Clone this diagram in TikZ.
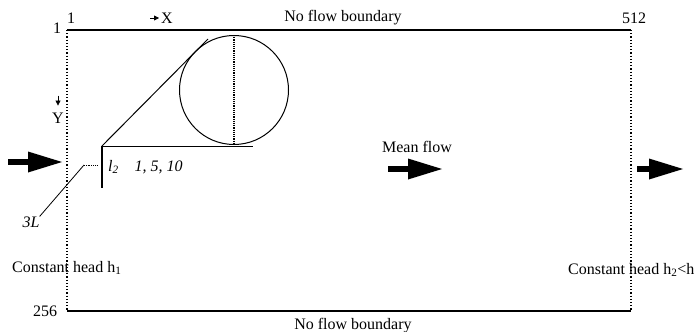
\documentclass[tikz,border=0pt]{standalone}
\usepackage{fontspec}
\setmainfont{Liberation Serif}
\usetikzlibrary{arrows.meta,positioning}

\begin{document}
\begin{tikzpicture}[
  x=1pt, y=-1pt,
  lbl/.style={font=\fontsize{16}{18}\selectfont, inner sep=0pt},
  ital/.style={lbl, font=\fontsize{16}{18}\selectfont\itshape},
  bound/.style={line width=1.3pt},
  side/.style={dotted, line width=1.2pt},
  flow/.style={line width=6pt, -{Triangle[length=34pt, width=21pt, line width=0pt]}},
  tick/.style={line width=0.8pt, -{Triangle[length=5pt, width=5pt]}},
  >=Latex
]
\useasboundingbox (0,0) rectangle (699,332);
% domain
\coordinate (tl) at (67,30);
\coordinate (tr) at (631,30);
\coordinate (br) at (631,311);
\coordinate (bl) at (67,311);
\draw[bound] (tl) -- (tr);
\draw[bound] (bl) -- (br);
\draw[side] (tl) -- (bl);
\draw[side] (tr) -- (br);
\node[lbl] (xone) at (71,18) {1};
\node[lbl] (yone) at (57,28) {1};
\node[lbl] (xmax) at (634,18) {512};
\node[lbl] (ymax) at (45,311) {256};
\node[lbl] (topb) at (343,18) {No flow boundary};
\node[lbl] (botb) at (353,326) {No flow boundary};
\node[lbl] (xlab) at (167,18) {X};
\node[lbl] (ylab) at (58,118) {Y};
\draw[tick] ([xshift=-11pt]xlab.west) -- ([xshift=-2pt]xlab.west);
\draw[tick] ([yshift=17pt]ylab.north) -- ([yshift=7pt]ylab.north);
\node[lbl, anchor=west] (hleft) at (12,268) {Constant head h\textsubscript{1}};
\node[lbl, anchor=west] (hright) at (568,270) {Constant head h\textsubscript{2}<h};
% fracture and zoom
\node[circle, draw, line width=1pt, minimum size=109pt, inner sep=0pt] (lens) at (234,90) {};
\draw[side, densely dotted] (lens.north) -- (lens.south);
\coordinate (fa) at (102,146);
\coordinate (fb) at (102,188);
\coordinate (ta) at (208,39);
\coordinate (hb) at (253,146);
\draw[line width=2.2pt] (fa) -- (fb);
\draw[line width=1pt] (fa) -- (ta);
\draw[line width=1pt] (fa) -- (hb);
\node[ital, anchor=west] (lset) at (108,167) {l\textsubscript{2}\quad 1, 5, 10};
\node[ital] (three) at (31,222) {3L};
\coordinate (pa) at (84,165);
\coordinate (pb) at (97,165);
\draw[densely dotted, line width=0.8pt] (pa) -- (pb);
\draw[line width=0.8pt] (pa) -- (three.north east);
% flow arrows
\coordinate (inA) at (8,162);
\coordinate (inB) at (62,162);
\coordinate (mA) at (388,169);
\coordinate (mB) at (442,169);
\coordinate (outA) at (637,169);
\coordinate (outB) at (683,169);
\node[lbl] (mean) at (417,147) {Mean flow};
\foreach \a/\b in {inA/inB,mA/mB,outA/outB}
  \draw[flow] (\a) -- (\b);
\end{tikzpicture}
\end{document}
